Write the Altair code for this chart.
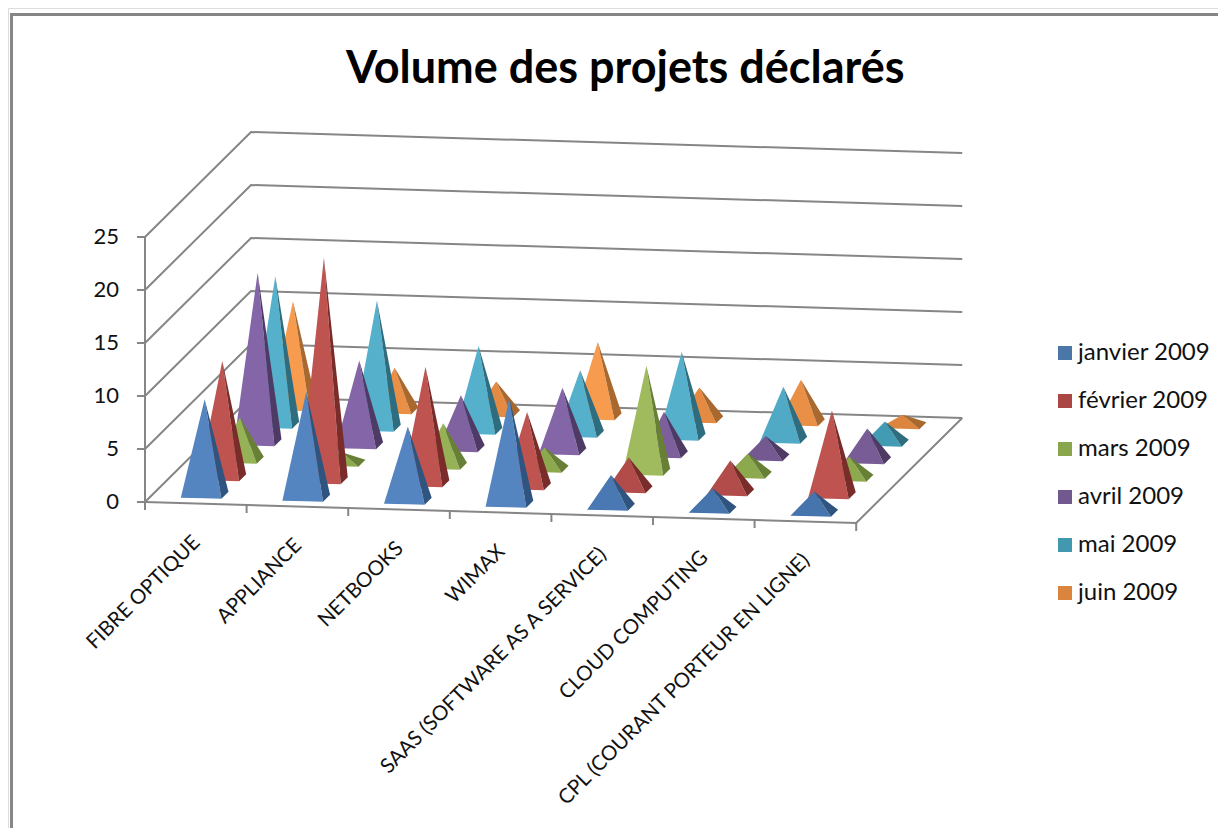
import altair as alt
import pandas as pd

categories = ["FIBRE OPTIQUE", "APPLIANCE", "NETBOOKS", "WIMAX",
              "SAAS (SOFTWARE AS A SERVICE)", "CLOUD COMPUTING",
              "CPL (COURANT PORTEUR EN LIGNE)"]
months = ["janvier 2009", "février 2009", "mars 2009", "avril 2009", "mai 2009", "juin 2009"]
janvier = [9, 10, 7, 10, 3, 2, 2]
fevrier = [11, 21, 11, 7, 3, 3, 8]
mars = [4, 1, 4, 2, 10, 2, 2]
avril = [16, 8, 5, 6, 4, 2, 3]
mai = [14, 12, 8, 6, 8, 5, 2]
juin = [10, 4, 3, 7, 3, 4, 1]
series = [janvier, fevrier, mars, avril, mai, juin]
y_ticks = [0, 5, 10, 15, 20, 25]

legend_colors = ["#4A76A8", "#AA4644", "#8AA64C", "#71588F", "#4198AF", "#DB843D"]
tall_colors = ["#5585C0", "#BE5350", "#A0BB5E", "#8465A7", "#55B0CC", "#F79B4F"]
flat_colors = ["#4674AD", "#AE4A48", "#8DA94E", "#73598F", "#429AB3", "#DD853E"]
dark_colors = ["#2F5480", "#7A2C2B", "#688036", "#4F3A66", "#2E6D80", "#A8682E"]

W, H = 1210, 820
OX, OY = 8, 6


def P(c, s, v):
    return (145 + 101.6 * c + 17.67 * s - OX, 500 + 3 * c - 17.5 * s - 10.6 * v - OY)


def mix(a, b, t):
    ca = [int(a[i:i + 2], 16) for i in (1, 3, 5)]
    cb = [int(b[i:i + 2], 16) for i in (1, 3, 5)]
    return "#%02X%02X%02X" % tuple(round(x + (y - x) * t) for x, y in zip(ca, cb))


def triangle(face, shade, pts):
    pts = sorted(pts)
    a, m, b = pts
    t = (m[0] - a[0]) / max(b[0] - a[0], 1e-6)
    yl = a[1] + (b[1] - a[1]) * t
    return [
        dict(face=face, px=a[0], py=a[1], py2=a[1], shade=shade),
        dict(face=face, px=m[0], py=m[1], py2=yl, shade=shade),
        dict(face=face, px=b[0], py=b[1], py2=b[1], shade=shade),
    ]


rows = []
hw = 0.2
for j in range(len(series) - 1, -1, -1):
    for i in range(len(categories)):
        v = series[j][i]
        c0, s0 = i + 0.5, j + 0.5
        apex = P(c0, s0, v)
        fl = P(c0 - hw, s0 - hw, 0)
        fr = P(c0 + hw, s0 - hw, 0)
        br = P(c0 + hw, s0 + hw, 0)
        front = mix(flat_colors[j], tall_colors[j], min(1, max(0, (v - 2) / 4)))
        rows += triangle(f"f{j}_{i}a", front, [fl, fr, apex])
        rows += triangle(f"f{j}_{i}b", dark_colors[j], [fr, br, apex])
faces = pd.DataFrame(rows)

shades = sorted(set(faces["shade"]))
color_scale = alt.Scale(domain=months + shades, range=legend_colors + shades)

grid = []
for k, t in enumerate(y_ticks):
    a, b, c = P(0, 0, t), P(0, 6, t), P(7, 6, t)
    grid += [dict(g=f"w{k}", px=a[0], py=a[1], o=0), dict(g=f"w{k}", px=b[0], py=b[1], o=1),
             dict(g=f"w{k}", px=c[0], py=c[1], o=2)]
    tk = P(0, 0, t)
    grid += [dict(g=f"t{k}", px=tk[0], py=tk[1], o=0), dict(g=f"t{k}", px=tk[0] - 8, py=tk[1], o=1)]
a, b, c = P(0, 0, 0), P(7, 0, 0), P(7, 6, 0)
grid += [dict(g="fl", px=a[0], py=a[1], o=0), dict(g="fl", px=b[0], py=b[1], o=1),
         dict(g="fl", px=c[0], py=c[1], o=2)]
t0, t1 = P(0, 0, 0), P(0, 0, 25)
grid += [dict(g="ya", px=t0[0], py=t0[1], o=0), dict(g="ya", px=t1[0], py=t1[1], o=1)]
for i in range(len(categories) + 1):
    p = P(i, 0, 0)
    grid += [dict(g=f"x{i}", px=p[0], py=p[1], o=0), dict(g=f"x{i}", px=p[0], py=p[1] + 8, o=1)]
grid_df = pd.DataFrame(grid)

x = alt.X("px:Q", scale=alt.Scale(domain=[0, W], range=[0, W], nice=False, zero=False), axis=None)
y = alt.Y("py:Q", scale=alt.Scale(domain=[H, 0], range=[H, 0], nice=False, zero=False), axis=None)

grid_layer = alt.Chart(grid_df).mark_line(color="#868686", strokeWidth=2).encode(
    x=x, y=y, detail="g:N", order="o:Q")

face_layer = alt.Chart(faces).mark_area(opacity=1).encode(
    x=x, y=y, y2="py2:Q", detail="face:N",
    color=alt.Color("shade:N", scale=color_scale,
                    legend=alt.Legend(values=months, title=None, orient="none",
                                      legendX=1045, legendY=333, symbolType="square",
                                      symbolSize=196, symbolStrokeWidth=0, labelFont="Lato",
                                      labelFontSize=24, labelColor="#111111", labelOffset=1,
                                      rowPadding=24, labelLimit=300)))

ytext = pd.DataFrame({"label": [str(t) for t in y_ticks],
                      "px": [P(0, 0, t)[0] - 26 for t in y_ticks],
                      "py": [P(0, 0, t)[1] for t in y_ticks]})
ytext_layer = alt.Chart(ytext).mark_text(font="Lato", fontSize=22, align="right", baseline="middle",
                                         color="#111111").encode(x=x, y=y, text="label:N")

xtext = pd.DataFrame({"label": categories,
                      "px": [P(i + 0.5, 0, 0)[0] + 1 for i in range(7)],
                      "py": [P(i + 0.5, 0, 0)[1] + 36 for i in range(7)]})
xtext_layer = alt.Chart(xtext).mark_text(font="Lato", fontSize=20.5, align="right", baseline="middle",
                                         angle=315, color="#111111").encode(x=x, y=y, text="label:N")

frame_top = alt.Chart(pd.DataFrame({"a": [0]})).mark_rule(color="#868686", strokeWidth=3).encode(
    x=alt.value(2.5), x2=alt.value(W), y=alt.value(6.5))
frame_left = alt.Chart(pd.DataFrame({"a": [0]})).mark_rule(color="#868686", strokeWidth=3).encode(
    x=alt.value(3.5), y=alt.value(5), y2=alt.value(H))

chart = alt.layer(frame_top, frame_left, grid_layer, face_layer, ytext_layer, xtext_layer).properties(
    width=W, height=H,
    padding=0,
    autosize=alt.AutoSizeParams(type="none"),
    title=alt.TitleParams("Volume des projets déclarés", font="Lato", fontSize=45, fontWeight="bold",
                          color="#000000", anchor="start", frame="group", dx=338, offset=-120,
                          baseline="alphabetic"),
).configure_view(stroke=None).configure(background="white")

chart.save("out.html", embed_options={"renderer": "svg", "actions": False})
